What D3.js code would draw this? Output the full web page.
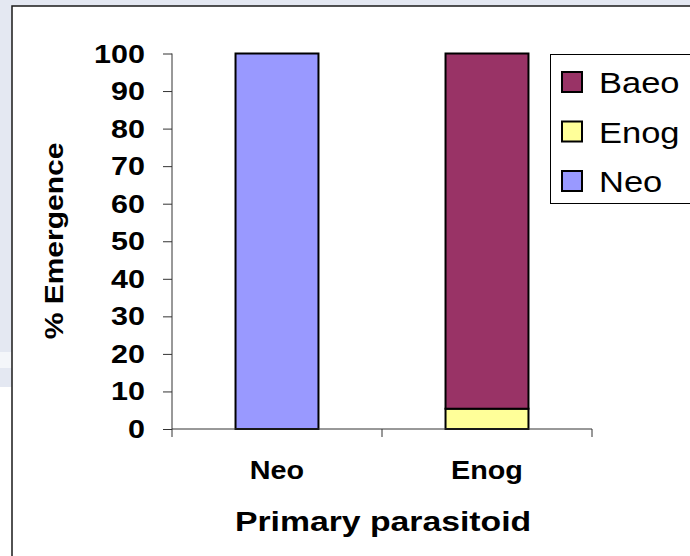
<!DOCTYPE html>
<html>
<head>
<meta charset="utf-8">
<script src="https://cdn.jsdelivr.net/npm/d3@7"></script>
<style>
  html, body { margin: 0; padding: 0; background: #ffffff; }
  svg { display: block; }
  text { font-family: "Liberation Sans", Arial, sans-serif; fill: #000; }
</style>
</head>
<body>
<svg id="chart" width="690" height="556"></svg>
<script>
// ---- data ----
const categories = ["Neo", "Enog"];
const seriesNames = ["Neo", "Enog", "Baeo"];          // stacking order, bottom to top
const neoValues  = [100, 0];
const enogValues = [0, 5.4];
const baeoValues = [0, 94.6];
const yTicks = [0, 10, 20, 30, 40, 50, 60, 70, 80, 90, 100];
const legendOrder = ["Baeo", "Enog", "Neo"];
const colors = { Neo: "#9999FF", Enog: "#FFFF99", Baeo: "#993366" };
const xTitle = "Primary parasitoid";
const yTitle = "% Emergence";

const rows = categories.map((c, i) => ({ cat: c, Neo: neoValues[i], Enog: enogValues[i], Baeo: baeoValues[i] }));

const svg = d3.select("#chart");
const W = 690, H = 556;

// ---- background ----
svg.append("rect").attr("x", 0).attr("y", 0).attr("width", W).attr("height", 352).attr("fill", "#e4e8f2");
svg.append("rect").attr("x", 0).attr("y", 352).attr("width", W).attr("height", 16).attr("fill", "#f4f6fa");
svg.append("rect").attr("x", 0).attr("y", 368).attr("width", W).attr("height", 19).attr("fill", "#e4e8f2");
svg.append("rect").attr("x", 0).attr("y", 387).attr("width", W).attr("height", H - 387).attr("fill", "#ffffff");
// chart frame
svg.append("rect").attr("x", 12).attr("y", 6).attr("width", W).attr("height", H)
  .attr("fill", "#ffffff").attr("stroke", "#1a1a1a").attr("stroke-width", 1.5);

// ---- scales ----
const plotL = 172, plotR = 592, plotT = 53.5, plotB = 429;
const y = d3.scaleLinear().domain([0, 100]).range([plotB, plotT]);
const xOuter = d3.scaleBand().domain(categories).range([plotL, plotR]).padding(0);
const x = d3.scaleBand().domain(categories).range([plotL, plotR]).paddingInner(0.605).paddingOuter(0.3025);

const stack = d3.stack().keys(seriesNames);
const stacked = stack(rows);

// ---- bars ----
const g = svg.append("g");
g.selectAll("g.series").data(stacked).join("g").attr("class", "series")
  .attr("fill", d => colors[d.key])
  .selectAll("rect").data(d => d.filter(p => p[1] - p[0] > 0)).join("rect")
  .attr("x", d => x(d.data.cat))
  .attr("width", x.bandwidth())
  .attr("y", d => y(d[1]))
  .attr("height", d => y(d[0]) - y(d[1]))
  .attr("stroke", "#000").attr("stroke-width", 2);

// ---- axes ----
const axisColor = "#333";
const yAxis = svg.append("g").attr("transform", `translate(${plotL},0)`)
  .call(d3.axisLeft(y).tickValues(yTicks).tickSize(9).tickFormat(""));
yAxis.select(".domain").remove();
yAxis.selectAll(".tick line").attr("stroke", axisColor);
svg.append("line").attr("x1", plotL).attr("x2", plotL).attr("y1", y(100)).attr("y2", y(0))
  .attr("stroke", axisColor);

const SX = 1.22;
svg.append("g").selectAll("text").data(yTicks).join("text")
  .attr("transform", d => `translate(145,${y(d) + 9}) scale(${SX},1)`)
  .attr("text-anchor", "end").attr("font-weight", "bold").attr("font-size", 25)
  .text(d => d);

// x axis
svg.append("line").attr("x1", plotL).attr("x2", plotR).attr("y1", plotB).attr("y2", plotB).attr("stroke", axisColor);
const xTickPos = categories.map(c => xOuter(c)).concat([xOuter(categories[categories.length - 1]) + xOuter.bandwidth()]);
svg.append("g").selectAll("line").data(xTickPos).join("line")
  .attr("x1", d => d).attr("x2", d => d).attr("y1", plotB).attr("y2", plotB + 8)
  .attr("stroke", axisColor);

svg.append("g").selectAll("text").data(categories).join("text")
  .attr("transform", d => `translate(${xOuter(d) + xOuter.bandwidth() / 2},479) scale(1.15,1)`)
  .attr("text-anchor", "middle").attr("font-weight", "bold").attr("font-size", 25)
  .text(d => d);

// titles
svg.append("text")
  .attr("transform", `translate(383,531) scale(1.25,1)`)
  .attr("text-anchor", "middle").attr("font-weight", "bold").attr("font-size", 27)
  .text(xTitle);
svg.append("text")
  .attr("transform", `translate(63,241) rotate(-90) scale(1.2,1)`)
  .attr("text-anchor", "middle").attr("font-weight", "bold").attr("font-size", 25)
  .text(yTitle);

// ---- legend ----
const leg = svg.append("g");
leg.append("rect").attr("x", 550.5).attr("y", 54.5).attr("width", 200).attr("height", 149)
  .attr("fill", "#fff").attr("stroke", "#000").attr("stroke-width", 1);
const legY = d3.scalePoint().domain(legendOrder).range([82, 181]);
const items = leg.selectAll("g.item").data(legendOrder).join("g").attr("class", "item");
items.append("rect").attr("x", 562).attr("y", d => legY(d) - 10).attr("width", 20).attr("height", 20)
  .attr("fill", d => colors[d]).attr("stroke", "#000").attr("stroke-width", 2);
items.append("text")
  .attr("transform", d => `translate(599,${legY(d) + 11}) scale(1.15,1)`)
  .attr("font-size", 30)
  .text(d => d);
</script>
</body>
</html>
